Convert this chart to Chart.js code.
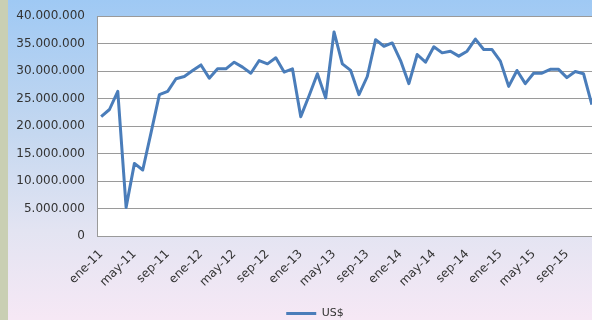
<!DOCTYPE html>
<html>
<head>
<meta charset="utf-8">
<script src="https://cdn.jsdelivr.net/npm/chart.js@4"></script>
<style>
  html, body { margin: 0; padding: 0; overflow: hidden; }
  body {
    width: 592px; height: 320px;
    background:
      linear-gradient(to right, #c9cfb3 0, #c9cfb3 8px, transparent 8px),
      linear-gradient(#9fc9f4 0%, #c3d7f0 40%, #e3e4f2 72%, #f6e8f5 100%);
  }
  #wrap { position: absolute; left: 0; top: 0; width: 622px; height: 320px; }
</style>
</head>
<body>
<div id="wrap"><canvas id="grafico" width="622" height="320"></canvas></div>
<script>
const meses = ['ene', 'feb', 'mar', 'abr', 'may', 'jun', 'jul', 'ago', 'sep', 'oct', 'nov', 'dic'];
const anios = ['11', '12', '13', '14', '15'];
const etiquetas = [];
anios.forEach(a => meses.forEach(m => etiquetas.push(m + '-' + a)));

// exportaciones mensuales en US$
const montos = [
  21700000, 23000000, 26300000, 5200000, 13200000, 12000000, 18800000, 25700000, 26300000, 28600000, 29000000, 30100000,
  31100000, 28700000, 30400000, 30400000, 31600000, 30700000, 29600000, 31900000, 31300000, 32400000, 29800000, 30400000,
  21700000, 25500000, 29500000, 25100000, 37100000, 31300000, 30100000, 25700000, 29000000, 35700000, 34500000, 35100000,
  31900000, 27700000, 33000000, 31600000, 34400000, 33300000, 33600000, 32700000, 33600000, 35800000, 33900000, 33900000,
  31800000, 27200000, 30100000, 27700000, 29600000, 29600000, 30300000, 30300000, 28800000, 29900000, 29500000, 23900000
];
const ticksY = [0, 5000000, 10000000, 15000000, 20000000, 25000000, 30000000, 35000000, 40000000];

const azul = '#4a7dba';
const fuente = { family: 'DejaVu Sans', size: 12 };

function conPuntos(v) {
  return String(v).replace(/\B(?=(\d{3})+(?!\d))/g, '.');
}

// fondo blanco del area de trazado
const fondoPlot = {
  id: 'fondoPlot',
  beforeDraw(chart) {
    const { ctx, chartArea: a } = chart;
    ctx.save();
    ctx.fillStyle = '#ffffff';
    ctx.fillRect(a.left, a.top, a.right - a.left, a.bottom - a.top);
    ctx.restore();
  }
};

// la leyenda se centra en todo el ancho del lienzo y baja hasta el borde
const leyendaCentrada = {
  id: 'leyendaCentrada',
  afterLayout(chart) {
    const lg = chart.legend;
    lg.left = 4;
    lg.right = chart.width + 4;
    lg.top += 9;
    lg.bottom += 9;
  }
};

const ctx = document.getElementById('grafico');
new Chart(ctx, {
  type: 'line',
  data: {
    labels: etiquetas,
    datasets: [{
      label: 'US$',
      data: montos,
      borderColor: azul,
      backgroundColor: azul,
      borderWidth: 3,
      borderJoinStyle: 'round',
      pointRadius: 0,
      tension: 0
    }]
  },
  options: {
    responsive: false,
    animation: false,
    layout: { padding: { top: 16, right: 26, left: 0, bottom: 0 } },
    plugins: {
      tooltip: { enabled: false },
      legend: {
        position: 'bottom',
        labels: {
          usePointStyle: true,
          pointStyle: 'line',
          pointStyleWidth: 30,
          color: '#333333',
          font: { family: 'DejaVu Sans', size: 11 },
          padding: 2
        }
      }
    },
    scales: {
      x: {
        offset: true,
        grid: { display: false, drawTicks: false },
        border: { display: true, color: '#9a9a9a', width: 1 },
        ticks: {
          autoSkip: false,
          maxRotation: 45,
          minRotation: 45,
          padding: 11,
          color: '#333333',
          font: fuente,
          callback: function (v, i) { return i % 4 === 0 ? etiquetas[i] : null; }
        },
        afterFit: s => { s.height = 61; }
      },
      y: {
        min: 0,
        max: 40000000,
        afterBuildTicks: s => { s.ticks = ticksY.map(v => ({ value: v })); },
        grid: { color: '#9a9a9a', lineWidth: 1, drawTicks: false },
        border: { display: true, color: '#9a9a9a', width: 1 },
        ticks: {
          padding: 12,
          color: '#333333',
          font: fuente,
          callback: v => conPuntos(v)
        },
        afterFit: s => { s.width = 97; s.paddingTop = 0; s.paddingBottom = 0; }
      }
    }
  },
  plugins: [fondoPlot, leyendaCentrada]
});
</script>
</body>
</html>
